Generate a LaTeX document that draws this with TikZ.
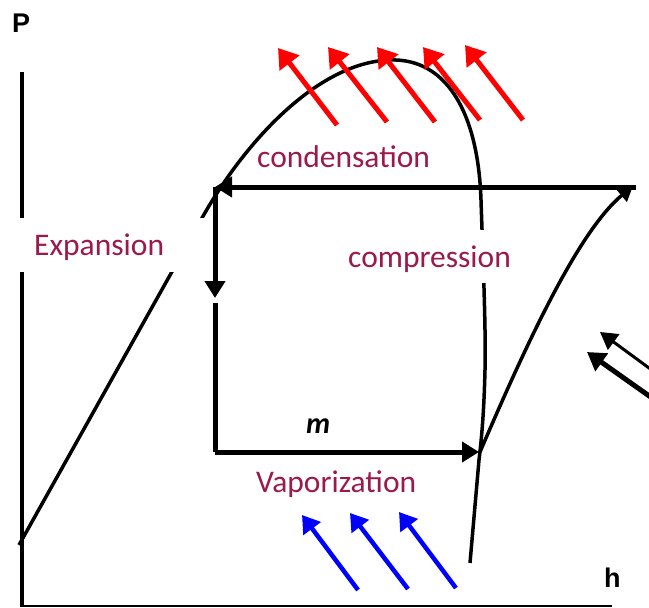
\documentclass[tikz,border=0pt]{standalone}
\usepackage{fontspec}
\setmainfont{Carlito}
\newfontfamily\arialfont{Liberation Sans}
\usetikzlibrary{arrows.meta}
\definecolor{labelred}{RGB}{155,25,75}
\tikzset{
  lbl/.style={text=labelred, font=\fontsize{31.5}{36}\selectfont, inner sep=0pt, anchor=base west},
  axislbl/.style={font=\arialfont\bfseries\fontsize{27}{30}\selectfont, inner sep=0pt, anchor=base west},
  cycle/.style={line width=5pt},
  bigtip/.style={-{Triangle[length=17pt,width=20pt]}},
  curve/.style={line width=3.5pt},
  redarrow/.style={red, line width=5pt, -{Triangle[length=19pt,width=24pt]}},
  bluearrow/.style={blue, line width=4.5pt, -{Triangle[length=17pt,width=21pt]}},
}
\begin{document}
\begin{tikzpicture}[x=1pt,y=-1pt]
\useasboundingbox (0,0) rectangle (649,608);
\clip (0,0) rectangle (649,608);

% axes
\draw[line width=4pt] (21.5,72) -- (21.5,606);
\draw[line width=2.5pt] (20,606) -- (612,606);

% saturation dome with expansion line
\draw[curve, line join=round] (19,545) -- (202,218)
  .. controls (247,138) and (320,62) .. (390,60)
  .. controls (445,58) and (478,110) .. (481,200)
  .. controls (483,260) and (486,330) .. (485,370)
  .. controls (484,410) and (482,435) .. (479,460)
  -- (470,563);

% cycle corners
\coordinate (A) at (215,187);
\coordinate (Amid) at (215,298);
\coordinate (Bstart) at (215,303);
\coordinate (B) at (215,452);
\coordinate (C) at (479,452);
\coordinate (D) at (636,187);

\draw[cycle, bigtip] (D) -- (A);
\draw[cycle, bigtip] (A) -- (Amid);
\draw[cycle] (Bstart) -- (B);
\draw[cycle, bigtip] (B) -- (C);

% compression curve
\draw[curve, -{Triangle[length=15pt,width=16pt]}] (480,452) .. controls (530,335) and (580,230) .. (633,186);

% white gaps behind labels
\fill[white] (14,218) rectangle (206,272);
\fill[white] (345,230) rectangle (517,283);

% labels
\node[lbl] (cond) at (257,167) {condensation};
\node[lbl] (comp) at (348,267) {compression};
\node[lbl] (expa) at (34,255) {Expansion};
\node[lbl] (vapo) at (256,492) {Vaporization};
\node[font=\bfseries\itshape\fontsize{30}{34}\selectfont, inner sep=0pt, anchor=base west] (mlab) at (306,433) {m};
\node[axislbl] (P) at (12,32) {P};
\node[axislbl] (h) at (604,587) {h};

% red heat arrows
\draw[redarrow] (337,125) -- (278,48);
\draw[redarrow] (387,122) -- (328,47);
\draw[redarrow] (435,122) -- (377,47);
\draw[redarrow] (480,120) -- (423,47);
\draw[redarrow] (523,120) -- (465,45);

% blue heat arrows
\draw[bluearrow] (358,590) -- (302,515);
\draw[bluearrow] (408,589) -- (350,513);
\draw[bluearrow] (456,588) -- (399,512);

% black work arrows
\draw[line width=3pt, -{Triangle[length=17pt,width=19pt]}] (664,379) -- (600,332);
\draw[line width=5pt, -{Triangle[length=18pt,width=21pt]}] (662,405) -- (587,352);
\end{tikzpicture}
\end{document}
